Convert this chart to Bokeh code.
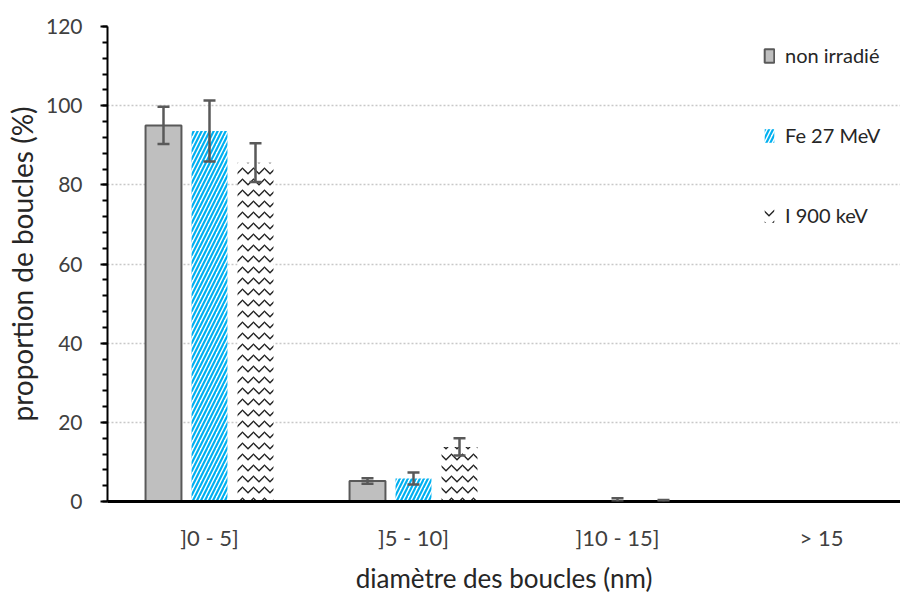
from bokeh.plotting import figure
from bokeh.models import (ColumnDataSource, Range1d, FixedTicker, SingleIntervalTicker,
                          Whisker, TeeHead, Legend, LegendItem)
from bokeh.embed import file_html
from bokeh.resources import INLINE

# ---- data ----
categories = ["]0 - 5]", "]5 - 10]", "]10 - 15]", "> 15"]
series_names = ["non irradié", "Fe 27 MeV", "I 900 keV"]
non_irradie = [95.0, 5.2, 0.0, 0.0]
non_irradie_err = [4.7, 0.7, 0.0, 0.0]
fe_27 = [93.6, 5.8, 0.4, 0.0]
fe_27_err = [7.7, 1.5, 0.4, 0.0]
i_900 = [85.6, 13.8, 0.2, 0.0]
i_900_err = [4.9, 2.2, 0.2, 0.0]
y_ticks = [0, 20, 40, 60, 80, 100, 120]

FONT = "Lato"
TXT = "#404040"

p = figure(width=900, height=596, output_backend="svg", toolbar_location=None,
           x_range=Range1d(0, (900 - 107) / 204), y_range=Range1d(0, 120),
           min_border_left=107, min_border_right=0, min_border_top=26, min_border_bottom=95)
p.outline_line_color = None
p.background_fill_color = "white"

offsets = [-0.2255, 0.0, 0.2255]
bw = 0.176
series = [non_irradie, fe_27, i_900]
errs = [non_irradie_err, fe_27_err, i_900_err]
styles = [
    dict(fill_color="#bfbfbf", line_color="#595959", line_width=2),
    dict(fill_color="white", line_color=None, hatch_pattern="right_diagonal_line",
         hatch_color="#00b0f0", hatch_scale=8, hatch_weight=2.2),
    dict(fill_color="white", line_color=None, hatch_pattern="horizontal_wave",
         hatch_color="#222222", hatch_scale=11, hatch_weight=1.3),
]

items = []
for name, vals, err, off, st in zip(series_names, series, errs, offsets, styles):
    xs = [i + 0.5 + off for i in range(len(categories))]
    src = ColumnDataSource(dict(x=xs, top=vals))
    r = p.vbar(x="x", top="top", width=bw, bottom=0, source=src, **st)
    items.append(LegendItem(label=name, renderers=[r]))
    wx = [x for x, e in zip(xs, err) if e > 0]
    wv = [v for v, e in zip(vals, err) if e > 0]
    we = [e for e in err if e > 0]
    wsrc = ColumnDataSource(dict(base=wx, upper=[v + e for v, e in zip(wv, we)],
                                 lower=[max(v - e, 0) for v, e in zip(wv, we)]))
    w = Whisker(base="base", upper="upper", lower="lower", source=wsrc, level="overlay",
                line_color="#595959", line_width=2.5,
                upper_head=TeeHead(size=12, line_color="#595959", line_width=2.5),
                lower_head=TeeHead(size=12, line_color="#595959", line_width=2.5))
    p.add_layout(w)

# ---- axes ----
p.xaxis.ticker = FixedTicker(ticks=[i + 0.5 for i in range(len(categories))])
p.xaxis.major_label_overrides = {i + 0.5: c for i, c in enumerate(categories)}
p.xaxis.major_tick_line_color = None
p.xaxis.minor_tick_line_color = None
p.xaxis.major_tick_out = 0
p.xaxis.major_tick_in = 0
p.xaxis.axis_line_color = "black"
p.xaxis.axis_line_width = 3
p.xaxis.major_label_standoff = 22
p.xaxis.axis_label = "diamètre des boucles (nm)"
p.xaxis.axis_label_standoff = 8
p.xaxis.major_label_text_font_size = "22px"
p.xaxis.axis_label_text_font_size = "26px"

p.yaxis.ticker = SingleIntervalTicker(interval=20, num_minor_ticks=5)
p.yaxis.axis_line_color = "black"
p.yaxis.axis_line_width = 2
p.yaxis.major_tick_line_color = "black"
p.yaxis.major_tick_line_width = 2
p.yaxis.minor_tick_line_color = "black"
p.yaxis.minor_tick_line_width = 2
p.yaxis.major_tick_out = 7
p.yaxis.major_tick_in = 0
p.yaxis.minor_tick_out = 5
p.yaxis.minor_tick_in = 0
p.yaxis.major_label_standoff = 18
p.yaxis.axis_label = "proportion de boucles (%)"
p.yaxis.axis_label_standoff = 4
p.yaxis.major_label_text_font_size = "21px"
p.yaxis.axis_label_text_font_size = "28px"

for ax in (p.xaxis, p.yaxis):
    ax.major_label_text_font = FONT
    ax.axis_label_text_font = FONT
    ax.major_label_text_color = TXT
    ax.axis_label_text_color = "#262626"
    ax.axis_label_text_font_style = "normal"

p.xgrid.grid_line_color = None
p.ygrid.ticker = FixedTicker(ticks=y_ticks)
p.ygrid.grid_line_color = "#c8c8c8"
p.ygrid.grid_line_width = 1.5
p.ygrid.grid_line_dash = "2 2"

legend = Legend(items=items, location=(656, 274), orientation="vertical",
                spacing=56, padding=0, margin=0, glyph_width=12, glyph_height=17,
                label_height=24, label_standoff=10,
                label_text_font=FONT, label_text_font_size="20px", label_text_color="#262626",
                background_fill_alpha=0, border_line_color=None)
p.add_layout(legend)

open("out.html", "w").write(file_html(p, INLINE))
